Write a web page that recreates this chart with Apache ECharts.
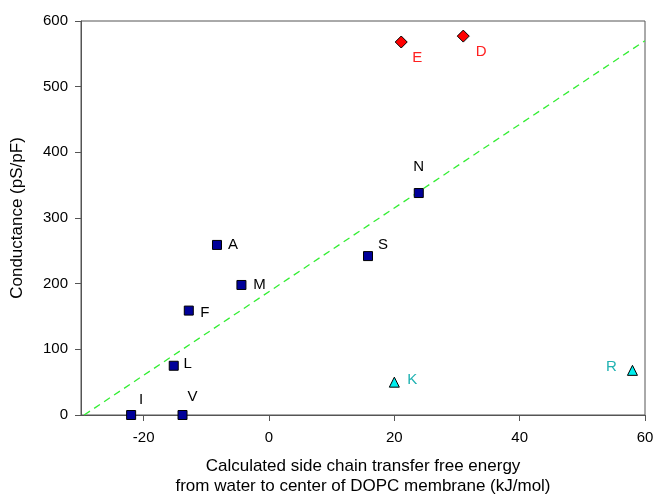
<!DOCTYPE html>
<html><head><meta charset="utf-8">
<script src="https://cdn.jsdelivr.net/npm/echarts@6/dist/echarts.min.js"></script>
<style>html,body{margin:0;padding:0;background:#fff}#c{width:654px;height:494px}</style>
</head><body><div id="c"></div>
<script>
// Data
const squareNames = ['I','V','L','F','M','A','S','N'];
const squareX = [-22, -13.8, -15.2, -12.8, -4.4, -8.3, 15.8, 23.9];
const squareY = [0, 0, 75, 159, 198, 259, 242, 338];
const diamondNames = ['E','D'];
const diamondX = [21.1, 31.0];
const diamondY = [568, 577];
const triangleNames = ['K','R'];
const triangleX = [20, 58];
const triangleY = [50, 68];
const fitLineX = [-29.5, 60];
const fitLineY = [0, 570];
const xTicks = [-20, 0, 20, 40, 60];
const yTicks = [0, 100, 200, 300, 400, 500, 600];

// label offsets (style)
const labelOffsets = {
  I:[10,-15], V:[10,-18], L:[14,-2], F:[16,2], M:[18,0], A:[16,0], S:[15,-11], N:[0,-26],
  E:[16,16], D:[18,16], K:[18,-2], R:[-21,-3]
};
const FONT = 'Liberation Sans, Arial, sans-serif';

function build(names, xs, ys, color) {
  return names.map((n, i) => ({
    value: [xs[i], ys[i]], name: n,
    label: { show: true, formatter: n, position: 'inside', offset: labelOffsets[n],
      color: color, fontSize: 15, fontFamily: FONT }
  }));
}

const chart = echarts.init(document.getElementById('c'), null, {renderer: 'canvas'});
const axisLineStyle = { color: '#555', width: 1 };
chart.setOption({
  animation: false,
  backgroundColor: '#fff',
  grid: { left: 81, top: 21, right: 9, bottom: 79, outerBoundsMode: 'none', containLabel: false,
    show: true, borderColor: '#555', borderWidth: 1, backgroundColor: 'transparent' },
  xAxis: {
    type: 'value', min: -30, max: 60,
    axisLine: { show: true, onZero: false, lineStyle: axisLineStyle },
    axisTick: { show: true, inside: false, length: 6, customValues: xTicks, lineStyle: axisLineStyle },
    axisLabel: { customValues: xTicks, color: '#000', fontSize: 15, margin: 15, fontFamily: FONT },
    splitLine: { show: false },
    name: 'Calculated side chain transfer free energy\nfrom water to center of DOPC membrane (kJ/mol)',
    nameLocation: 'middle', nameGap: 41,
    nameTextStyle: { color: '#000', fontSize: 17, lineHeight: 20, fontFamily: FONT }
  },
  yAxis: {
    type: 'value', min: 0, max: 600, interval: 100,
    axisLine: { show: true, onZero: false, lineStyle: axisLineStyle },
    axisTick: { show: true, inside: false, length: 6, lineStyle: axisLineStyle },
    axisLabel: { color: '#000', fontSize: 15, margin: 13, fontFamily: FONT },
    splitLine: { show: false },
    name: 'Conductance (pS/pF)', nameLocation: 'middle', nameGap: 55,
    nameTextStyle: { color: '#000', fontSize: 17, fontFamily: FONT }
  },
  series: [
    { type: 'line', data: fitLineX.map((x, i) => [x, fitLineY[i]]), symbol: 'none',
      lineStyle: { color: '#33ee33', width: 1.3, type: [7, 5] }, z: 1 },
    { type: 'scatter', symbol: 'rect', symbolSize: 9,
      itemStyle: { color: '#000099', borderColor: '#000', borderWidth: 1, opacity: 1 },
      data: build(squareNames, squareX, squareY, '#000'), z: 3 },
    { type: 'scatter', symbol: 'diamond', symbolSize: 12,
      itemStyle: { color: '#ff0000', borderColor: '#000', borderWidth: 1, opacity: 1 },
      data: build(diamondNames, diamondX, diamondY, '#ff2020'), z: 3 },
    { type: 'scatter', symbol: 'triangle', symbolSize: 10,
      itemStyle: { color: '#00eeee', borderColor: '#000', borderWidth: 1, opacity: 1 },
      data: build(triangleNames, triangleX, triangleY, '#20b2b2'), z: 3 }
  ]
});
</script></body></html>
